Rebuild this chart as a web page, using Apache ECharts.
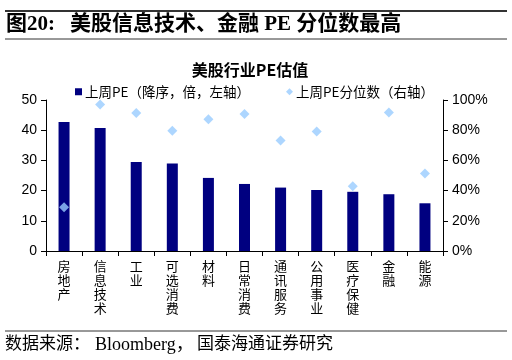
<!DOCTYPE html>
<html><head><meta charset="utf-8">
<script src="https://cdn.jsdelivr.net/npm/echarts@6/dist/echarts.min.js"></script>
<style>html,body{margin:0;padding:0;background:#fff}#c{width:512px;height:360px}</style>
</head><body><div id="c"></div>
<script>
var categories = ['房地产','信息技术','工业','可选消费','材料','日常消费','通讯服务','公用事业','医疗保健','金融','能源'];
var peValues = [42.7, 40.7, 29.5, 29.0, 24.2, 22.2, 21.0, 20.2, 19.6, 18.8, 15.8];
var pctValues = [0.289, 0.971, 0.914, 0.797, 0.872, 0.907, 0.731, 0.792, 0.428, 0.918, 0.514];
var leftTicks = [0, 10, 20, 30, 40, 50];
var rightTicks = ['0%','20%','40%','60%','80%','100%'];

var chart = echarts.init(document.getElementById('c'), null, {renderer:'canvas'});
var cjk = '"Liberation Serif","Noto Sans CJK SC",serif';
chart.setOption({
  animation:false,
  backgroundColor:'#fff',
  title:{text:'美股行业PE估值', left:245, textAlign:'center', top:57,
    textStyle:{fontSize:16, fontWeight:'bold', color:'#000', fontFamily:'"Noto Sans CJK SC",sans-serif'}},
  legend:{
    top:80, left:70, itemGap:36, itemWidth:7, itemHeight:7,
    textStyle:{fontSize:13.5, color:'#000', fontFamily:'"Noto Sans CJK SC",sans-serif', padding:[0,0,0,-2]},
    data:[{name:'上周PE（降序，倍，左轴）', icon:'rect'},{name:'上周PE分位数（右轴）', icon:'diamond'}]
  },
  grid:{left:46, right:69, top:100, bottom:109},
  xAxis:{type:'category', data:categories,
    axisLine:{lineStyle:{color:'#000', width:1}},
    axisTick:{show:true, length:5, lineStyle:{color:'#000'}},
    axisLabel:{interval:0, margin:8, fontSize:13, lineHeight:14, color:'#000',
      fontFamily:'"Noto Sans CJK SC",sans-serif', verticalAlign:'top',
      formatter:function(v){return v.split('').join('\n');}}
  },
  yAxis:[
    {type:'value', min:0, max:50, interval:10, position:'left',
     axisLine:{show:true, lineStyle:{color:'#000'}},
     axisTick:{show:true, length:5, lineStyle:{color:'#000'}},
     splitLine:{show:false},
     axisLabel:{fontSize:14, color:'#000', margin:9, fontFamily:'"Liberation Sans",Arial,sans-serif',
       formatter:function(v){return leftTicks.indexOf(v)>=0?String(v):'';}}},
    {type:'value', min:0, max:1, interval:0.2, position:'right',
     axisLine:{show:true, lineStyle:{color:'#000'}},
     axisTick:{show:true, length:5, lineStyle:{color:'#000'}},
     splitLine:{show:false},
     axisLabel:{fontSize:14, color:'#000', margin:9, fontFamily:'"Liberation Sans",Arial,sans-serif',
       formatter:function(v){return rightTicks[Math.round(v*5)];}}}
  ],
  series:[
    {name:'上周PE（降序，倍，左轴）', type:'bar', data:peValues, barWidth:11, yAxisIndex:0,
     itemStyle:{color:'#000080'}},
    {name:'上周PE分位数（右轴）', type:'scatter', data:pctValues, yAxisIndex:1,
     symbol:'diamond', symbolSize:10, itemStyle:{color:'#99CCFF'}, z:5}
  ],
  graphic:[
    {type:'line', shape:{x1:5,y1:11,x2:507,y2:11}, style:{stroke:'#333', lineWidth:2}},
    {type:'text', x:6, y:25, style:{text:'图20:', font:'bold 21px '+cjk, fill:'#000', textVerticalAlign:'middle'}},
    {type:'text', x:70, y:25, style:{text:'美股信息技术、金融 PE 分位数最高', font:'bold 21px '+cjk, fill:'#000', textVerticalAlign:'middle'}},
    {type:'line', shape:{x1:5,y1:39,x2:507,y2:39}, style:{stroke:'#333', lineWidth:1}},
    {type:'line', shape:{x1:5,y1:331,x2:507,y2:331}, style:{stroke:'#333', lineWidth:1}},
    {type:'text', x:5, y:345, style:{text:'数据来源：', font:'17px '+cjk, fill:'#000', textVerticalAlign:'middle'}},
    {type:'text', x:95, y:345, style:{text:'Bloomberg，', font:'18px '+cjk, fill:'#000', textVerticalAlign:'middle'}},
    {type:'text', x:197, y:345, style:{text:'国泰海通证券研究', font:'17px '+cjk, fill:'#000', textVerticalAlign:'middle'}}
  ]
});
</script></body></html>
